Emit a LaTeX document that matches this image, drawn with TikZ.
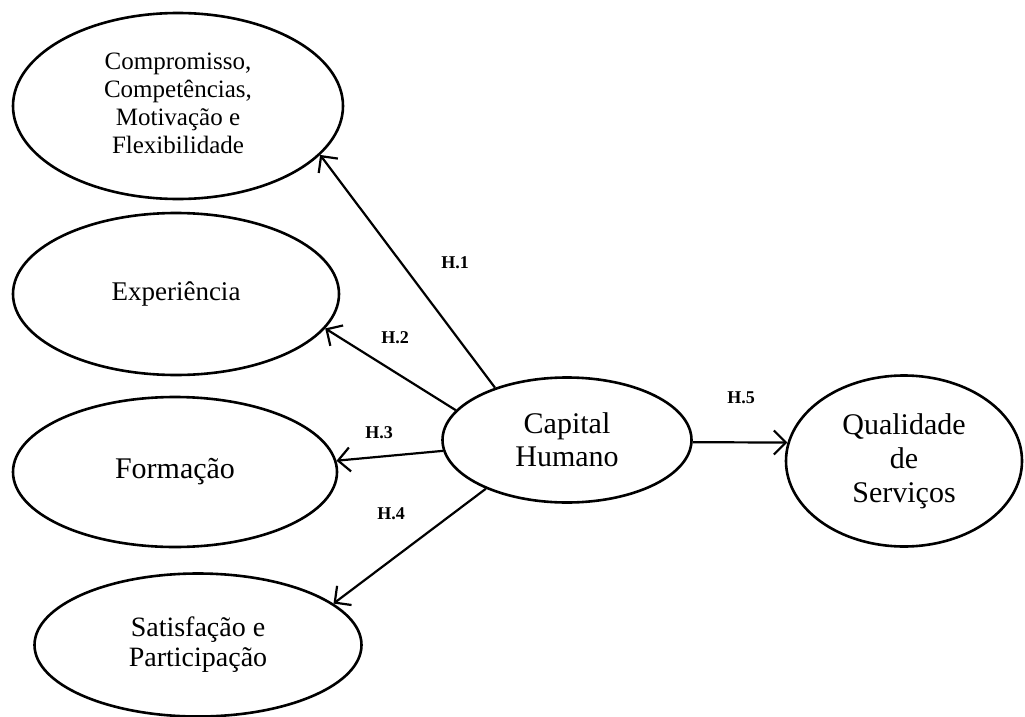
\documentclass[tikz,border=0pt]{standalone}
\usepackage{fontspec}
\setmainfont{Liberation Serif}
\usetikzlibrary{shapes.geometric,arrows.meta}
\begin{document}
\begin{tikzpicture}[x=1pt,y=-1pt,
  ell/.style={draw,ellipse,line width=2.6pt,inner sep=0pt,align=center},
  arr/.style={line width=2.2pt,-{Straight Barb[length=12pt,width=24pt,line width=2.2pt]}},
  hlab/.style={font=\fontsize{18}{20}\selectfont\bfseries,inner sep=0pt}]
\useasboundingbox (0,0) rectangle (1025,717);
\node[ell,minimum width=330pt,minimum height=186pt,font=\fontsize{25}{28}\selectfont] (comp) at (178,106) {\raisebox{-5pt}{\begin{tabular}{@{}c@{}}Compromisso,\\Competências,\\Motivação e\\Flexibilidade\end{tabular}}};
\node[ell,minimum width=326pt,minimum height=162pt,font=\fontsize{27}{30}\selectfont] (exp) at (176,294) {Experiência};
\node[ell,minimum width=324pt,minimum height=150pt,font=\fontsize{30}{33}\selectfont] (form) at (175,472) {Formação};
\node[ell,minimum width=327pt,minimum height=143pt,font=\fontsize{28}{30}\selectfont] (sat) at (198,645) {Satisfação e\\Participação};
\node[ell,minimum width=249pt,minimum height=125pt,font=\fontsize{30}{33}\selectfont] (cap) at (567,440) {Capital\\Humano};
\node[ell,minimum width=236pt,minimum height=171pt,font=\fontsize{30}{34}\selectfont] (qual) at (904,461) {Qualidade\\de\\Serviços};
\draw[arr] (cap.144.75) -- (comp.-19.9);
\draw[arr] (cap.165) -- (exp.-13);
\draw[arr] (cap.185) -- (form.4.2);
\draw[arr] (cap.211.8) -- (sat.17);
\draw[arr] (cap.-1) -- (qual.171);
\node[hlab] (h1) at (455,263) {H.1};
\node[hlab] (h2) at (395,338) {H.2};
\node[hlab] (h3) at (379,433) {H.3};
\node[hlab] (h4) at (391,514) {H.4};
\node[hlab] (h5) at (741,398) {H.5};
\end{tikzpicture}
\end{document}
